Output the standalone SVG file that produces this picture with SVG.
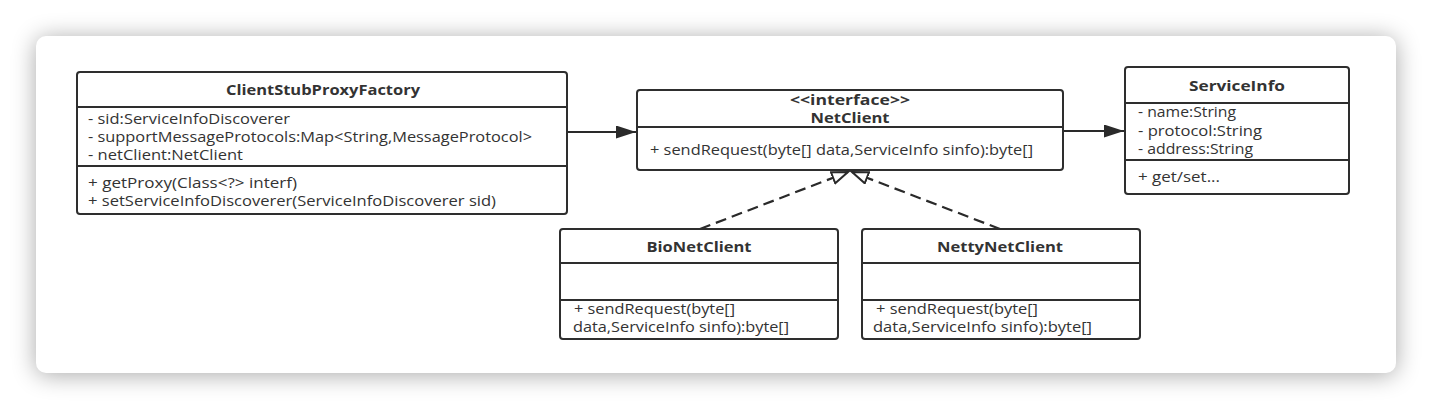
<svg xmlns="http://www.w3.org/2000/svg" width="1432" height="410" viewBox="0 0 1432 410">
<style>
.box{fill:#fff;stroke:#2e2e2e;stroke-width:2}
.div{stroke:#2e2e2e;stroke-width:2}
.t{font-family:"Open Sans","Noto Sans",sans-serif;font-size:15px;fill:#333}
.b{font-weight:bold;text-anchor:middle}
.line{fill:none;stroke:#2a2a2a;stroke-width:2.2}
.dash{stroke-dasharray:11 6}
</style>
<defs>
<filter id="sh" x="-10%" y="-30%" width="120%" height="160%">
<feGaussianBlur stdDeviation="12"/>
</filter>
<marker id="arrow" markerUnits="userSpaceOnUse" markerWidth="22" markerHeight="14" refX="20" refY="6.5" orient="auto">
<path d="M0,0 L20,6.5 L0,13 z" fill="#2a2a2a"/>
</marker>
<marker id="tri" markerUnits="userSpaceOnUse" markerWidth="20" markerHeight="16" refX="17" refY="7" orient="auto">
<path d="M1,1 L17,7 L1,13 z" fill="#fff" stroke="#2a2a2a" stroke-width="2"/>
</marker>
</defs>
<rect width="1432" height="410" fill="#fff"/>
<rect x="36" y="38" width="1360" height="337" rx="10" fill="#000" opacity="0.34" filter="url(#sh)"/>
<rect x="36" y="36" width="1360" height="337" rx="10" fill="#fff"/>

<g id="connectors">
<line class="line" x1="567" y1="132" x2="636" y2="132" marker-end="url(#arrow)"/>
<line class="line" x1="1063" y1="131" x2="1124" y2="131" marker-end="url(#arrow)"/>
<line class="line dash" x1="700" y1="229" x2="848" y2="172" marker-end="url(#tri)"/>
<line class="line dash" x1="1000" y1="229" x2="852" y2="172" marker-end="url(#tri)"/>
</g>

<g id="ClientStubProxyFactory">
<rect class="box" x="77" y="72" width="490" height="142" rx="3"/>
<line class="div" x1="77" y1="107" x2="567" y2="107"/>
<line class="div" x1="77" y1="166" x2="567" y2="166"/>
<text class="t b" x="323" y="95" textLength="194" lengthAdjust="spacingAndGlyphs">ClientStubProxyFactory</text>
<text class="t" x="88" y="124" textLength="202" lengthAdjust="spacingAndGlyphs">- sid:ServiceInfoDiscoverer</text>
<text class="t" x="88" y="142" textLength="444" lengthAdjust="spacingAndGlyphs">- supportMessageProtocols:Map&lt;String,MessageProtocol&gt;</text>
<text class="t" x="88" y="160" textLength="155" lengthAdjust="spacingAndGlyphs">- netClient:NetClient</text>
<text class="t" x="88" y="188" textLength="209" lengthAdjust="spacingAndGlyphs">+ getProxy(Class&lt;?&gt; interf)</text>
<text class="t" x="88" y="206" textLength="408" lengthAdjust="spacingAndGlyphs">+ setServiceInfoDiscoverer(ServiceInfoDiscoverer sid)</text>
</g>

<g id="NetClient">
<rect class="box" x="637" y="90" width="426" height="80" rx="3"/>
<line class="div" x1="637" y1="127" x2="1063" y2="127"/>
<text class="t b" x="850" y="105" textLength="120" lengthAdjust="spacingAndGlyphs">&lt;&lt;interface&gt;&gt;</text>
<text class="t b" x="850" y="123" textLength="79" lengthAdjust="spacingAndGlyphs">NetClient</text>
<text class="t" x="650" y="155" textLength="383" lengthAdjust="spacingAndGlyphs">+ sendRequest(byte[] data,ServiceInfo sinfo):byte[]</text>
</g>

<g id="ServiceInfo">
<rect class="box" x="1125" y="67" width="224" height="127" rx="3"/>
<line class="div" x1="1125" y1="103" x2="1349" y2="103"/>
<line class="div" x1="1125" y1="160" x2="1349" y2="160"/>
<text class="t b" x="1237" y="91" textLength="96" lengthAdjust="spacingAndGlyphs">ServiceInfo</text>
<text class="t" x="1138" y="117" textLength="98" lengthAdjust="spacingAndGlyphs">- name:String</text>
<text class="t" x="1138" y="136" textLength="124" lengthAdjust="spacingAndGlyphs">- protocol:String</text>
<text class="t" x="1138" y="154" textLength="115" lengthAdjust="spacingAndGlyphs">- address:String</text>
<text class="t" x="1138" y="182" textLength="82" lengthAdjust="spacingAndGlyphs">+ get/set...</text>
</g>

<g id="BioNetClient">
<rect class="box" x="560" y="229" width="278" height="110" rx="3"/>
<line class="div" x1="560" y1="263" x2="838" y2="263"/>
<line class="div" x1="560" y1="300" x2="838" y2="300"/>
<text class="t b" x="699" y="252" textLength="105" lengthAdjust="spacingAndGlyphs">BioNetClient</text>
<text class="t" x="574" y="314" textLength="161" lengthAdjust="spacingAndGlyphs">+ sendRequest(byte[]</text>
<text class="t" x="573" y="332" textLength="216" lengthAdjust="spacingAndGlyphs">data,ServiceInfo sinfo):byte[]</text>
</g>

<g id="NettyNetClient">
<rect class="box" x="862" y="229" width="278" height="110" rx="3"/>
<line class="div" x1="862" y1="263" x2="1140" y2="263"/>
<line class="div" x1="862" y1="300" x2="1140" y2="300"/>
<text class="t b" x="1000" y="252" textLength="126" lengthAdjust="spacingAndGlyphs">NettyNetClient</text>
<text class="t" x="876" y="314" textLength="162" lengthAdjust="spacingAndGlyphs">+ sendRequest(byte[]</text>
<text class="t" x="873" y="332" textLength="219" lengthAdjust="spacingAndGlyphs">data,ServiceInfo sinfo):byte[]</text>
</g>
</svg>
